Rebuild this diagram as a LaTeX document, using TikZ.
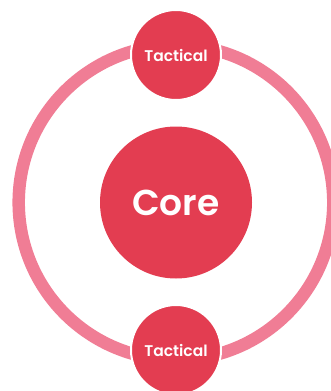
\documentclass[tikz,border=0pt]{standalone}
\usepackage{fontspec}
\setmainfont{Poppins}[BoldFont={* SemiBold}]

\definecolor{corered}{RGB}{227,61,81}
\definecolor{ringpink}{RGB}{240,125,149}

\tikzset{
	tactical/.style={circle,fill=corered,draw=white,line width=2pt,minimum size=90pt,inner sep=0pt,text=white,font=\bfseries\fontsize{15.5}{15.5}\selectfont},
	core/.style={circle,fill=corered,minimum size=152pt,inner sep=0pt,text=white,font=\bfseries\fontsize{36}{36}\selectfont}
}

\begin{document}
\begin{tikzpicture}[x=1pt,y=1pt,yscale=-1,xscale=1]
				%set diagram at 331 x 391
				\useasboundingbox (0,0) rectangle (331,391);
				\clip (0,0) rectangle (331,391);

				%Shape: Circle [id:ring]
				\draw  [color=ringpink, line width=12.5pt]  (176,202.5) circle [radius=157.3] ;

				% Text Node
				\draw (176,202.5) node [core] (core) {Core};
				% Text Node
				\draw (176,55) node [tactical] (tacticalTop) {Tactical};
				% Text Node
				\draw (176,350) node [tactical] (tacticalBottom) {Tactical};

		\end{tikzpicture}
\end{document}
